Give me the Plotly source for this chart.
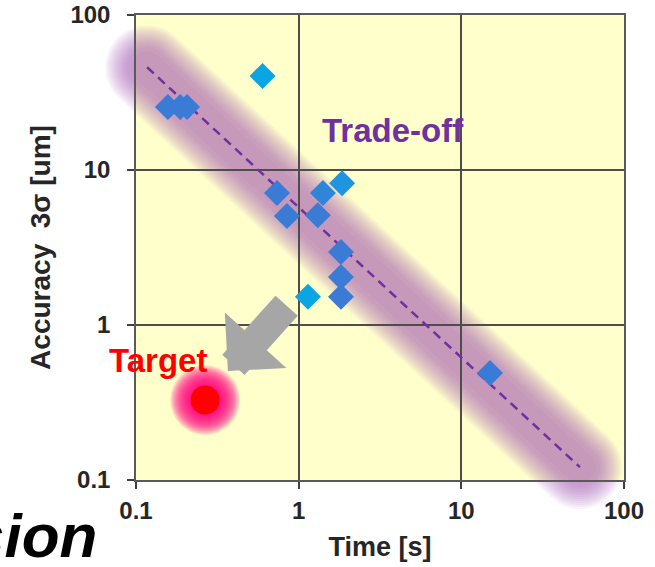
import numpy as np
import plotly.graph_objects as go

# ---------------- data ----------------
time_s = [0.157, 0.187, 0.206, 0.60, 0.736, 0.847, 1.31, 1.41, 1.85, 1.82, 1.82, 1.82, 1.14, 15.0]
accuracy_um = [25.5, 25.5, 25.5, 40.4, 7.1, 5.05, 5.1, 7.1, 8.2, 2.96, 2.04, 1.52, 1.52, 0.49]
point_colors = ["#3A7BD5", "#3A7BD5", "#3A7BD5", "#0AA6E3", "#3A7BD5", "#3A7BD5", "#3A7BD5",
                "#2F86D8", "#1E95DE", "#3A7BD5", "#3A7BD5", "#3A7BD5", "#0AA6E3", "#3A7BD5"]

trend_time = [0.117, 53.6]      # trade-off trend line end points
trend_acc = [46.0, 0.121]

target_time = [0.266]
target_acc = [0.328]

arrow_from = (0.86, 1.36)       # (time, accuracy) of the arrow tail
arrow_to = (0.367, 0.505)       # (time, accuracy) of the arrow tip

tick_vals = [0.1, 1, 10, 100]
tick_text = ["0.1", "1", "10", "100"]

# ---------------- layout geometry ----------------
W, H = 655, 567
PLOT_L, PLOT_R, PLOT_T, PLOT_B = 136, 624, 15, 480
LOG_MIN, LOG_MAX = -1, 2
PDX = (PLOT_R - PLOT_L) / (LOG_MAX - LOG_MIN)   # pixels per decade, x
PDY = (PLOT_B - PLOT_T) / (LOG_MAX - LOG_MIN)   # pixels per decade, y

# full-figure canvas axes with the same scale (so the glow band is not clipped)
canvas_x = [LOG_MIN - PLOT_L / PDX, LOG_MAX + (W - PLOT_R) / PDX]
canvas_y = [LOG_MIN - (H - PLOT_B) / PDY, LOG_MAX + PLOT_T / PDY]

FONT = "Liberation Sans, Arial, sans-serif"
PURPLE = "#7030A0"
INK = "#262626"
BAND = "rgba(165,95,185,0.068)"


def capsule(x0, y0, x1, y1, r, n=30):
    """Rounded band of half-width r pixels around the segment, in data units."""
    u0, v0 = np.log10(x0) * PDX, np.log10(y0) * PDY
    u1, v1 = np.log10(x1) * PDX, np.log10(y1) * PDY
    ang = np.arctan2(v1 - v0, u1 - u0)
    t1 = np.linspace(ang - np.pi / 2, ang + np.pi / 2, n)
    t0 = np.linspace(ang + np.pi / 2, ang + 3 * np.pi / 2, n)
    u = np.concatenate([u1 + r * np.cos(t1), u0 + r * np.cos(t0), [u1 + r * np.cos(t1[0])]])
    v = np.concatenate([v1 + r * np.sin(t1), v0 + r * np.sin(t0), [v1 + r * np.sin(t1[0])]])
    return 10 ** (u / PDX), 10 ** (v / PDY)


fig = go.Figure()

# soft purple trade-off band (stacked translucent layers give a blurred edge)
for r in list(np.arange(42, 19, -2)) + [16]:
    bx, by = capsule(trend_time[0], trend_acc[0], trend_time[1], trend_acc[1], r)
    fig.add_trace(go.Scatter(x=bx, y=by, xaxis="x", yaxis="y", mode="lines",
                             fill="toself", fillcolor=BAND,
                             line=dict(width=0), hoverinfo="skip", showlegend=False))

# dashed trend line
fig.add_trace(go.Scatter(x=trend_time, y=trend_acc, xaxis="x2", yaxis="y2", mode="lines",
                         line=dict(color=PURPLE, width=2.5, dash="9px,6px"),
                         hoverinfo="skip", showlegend=False))

# measured points
fig.add_trace(go.Scatter(x=time_s, y=accuracy_um, xaxis="x2", yaxis="y2", mode="markers",
                         marker=dict(symbol="diamond", size=20, color=point_colors,
                                     line=dict(width=0)),
                         showlegend=False))

# target with soft glow
for s in range(70, 29, -2):
    fig.add_trace(go.Scatter(x=target_time, y=target_acc, xaxis="x2", yaxis="y2", mode="markers",
                             marker=dict(size=s, color="rgba(255,0,125,0.10)", line=dict(width=0)),
                             cliponaxis=False, hoverinfo="skip", showlegend=False))
fig.add_trace(go.Scatter(x=target_time, y=target_acc, xaxis="x2", yaxis="y2", mode="markers",
                         marker=dict(size=29, color="#FF0000", line=dict(width=0)),
                         cliponaxis=False, showlegend=False))

axis_common = dict(type="log", range=[LOG_MIN, LOG_MAX], automargin=False,
                   showgrid=True, gridcolor="#4D4D4D",
                   gridwidth=1.5, showline=True, linecolor="#5A5A5A", linewidth=1.5, mirror=True,
                   ticks="outside", ticklen=7, tickwidth=1.5, tickcolor="#404040",
                   tickvals=tick_vals, ticktext=tick_text,
                   tickfont=dict(family=FONT, size=24, color=INK, weight="bold"),
                   fixedrange=True)

fig.update_layout(
    template="none",
    width=W, height=H,
    margin=dict(l=0, r=0, t=0, b=0, pad=0),
    paper_bgcolor="white",
    plot_bgcolor="rgba(0,0,0,0)",
    showlegend=False,
    xaxis=dict(type="log", range=canvas_x, domain=[0, 1], anchor="y", visible=False,
               automargin=False, fixedrange=True),
    yaxis=dict(type="log", range=canvas_y, domain=[0, 1], anchor="x", visible=False,
               automargin=False, fixedrange=True),
    xaxis2=dict(axis_common, domain=[PLOT_L / W, PLOT_R / W], anchor="y2",
                ticklabelstandoff=1,
                title=dict(text="Time [s]", standoff=15,
                           font=dict(family=FONT, size=27, color=INK, weight="bold"))),
    yaxis2=dict(axis_common, domain=[1 - PLOT_B / H, 1 - PLOT_T / H], anchor="x2",
                ticklabelstandoff=12,
                title=dict(text="Accuracy  3σ [um]", standoff=12,
                           font=dict(family=FONT, size=28, color=INK, weight="bold"))),
    shapes=[dict(type="rect", xref="paper", yref="paper", layer="below",
                 x0=PLOT_L / W, x1=PLOT_R / W, y0=1 - PLOT_B / H, y1=1 - PLOT_T / H,
                 fillcolor="#FFFFCC", line=dict(width=0))],
    annotations=[
        dict(text="Trade-off", xref="x2", yref="y2", x=np.log10(1.35), y=np.log10(18.1),
             xanchor="left", yanchor="middle", showarrow=False,
             font=dict(family=FONT, size=33, color=PURPLE, weight="bold")),
        dict(text="Target", xref="x2", yref="y2", x=np.log10(0.283), y=np.log10(0.594),
             xanchor="right", yanchor="middle", showarrow=False,
             font=dict(family=FONT, size=33, color="#FF0000", weight="bold")),
        dict(text="", xref="x2", yref="y2", axref="x2", ayref="y2",
             x=np.log10(arrow_to[0]), y=np.log10(arrow_to[1]),
             ax=np.log10(arrow_from[0]), ay=np.log10(arrow_from[1]),
             showarrow=True, arrowhead=1, arrowwidth=30, arrowsize=0.46, arrowcolor="#A6A6A6",
             standoff=0),
        dict(text="sion", xref="paper", yref="paper", x=99 / W, y=1 - 535 / H,
             xanchor="right", yanchor="middle", showarrow=False,
             font=dict(family=FONT, size=62, color="#000000", weight="bold", style="italic")),
    ],
)

fig.write_html(
    "out.html",
    post_script="document.documentElement.style.margin='0';"
                "document.body.style.margin='0';document.body.style.overflow='hidden';",
)
